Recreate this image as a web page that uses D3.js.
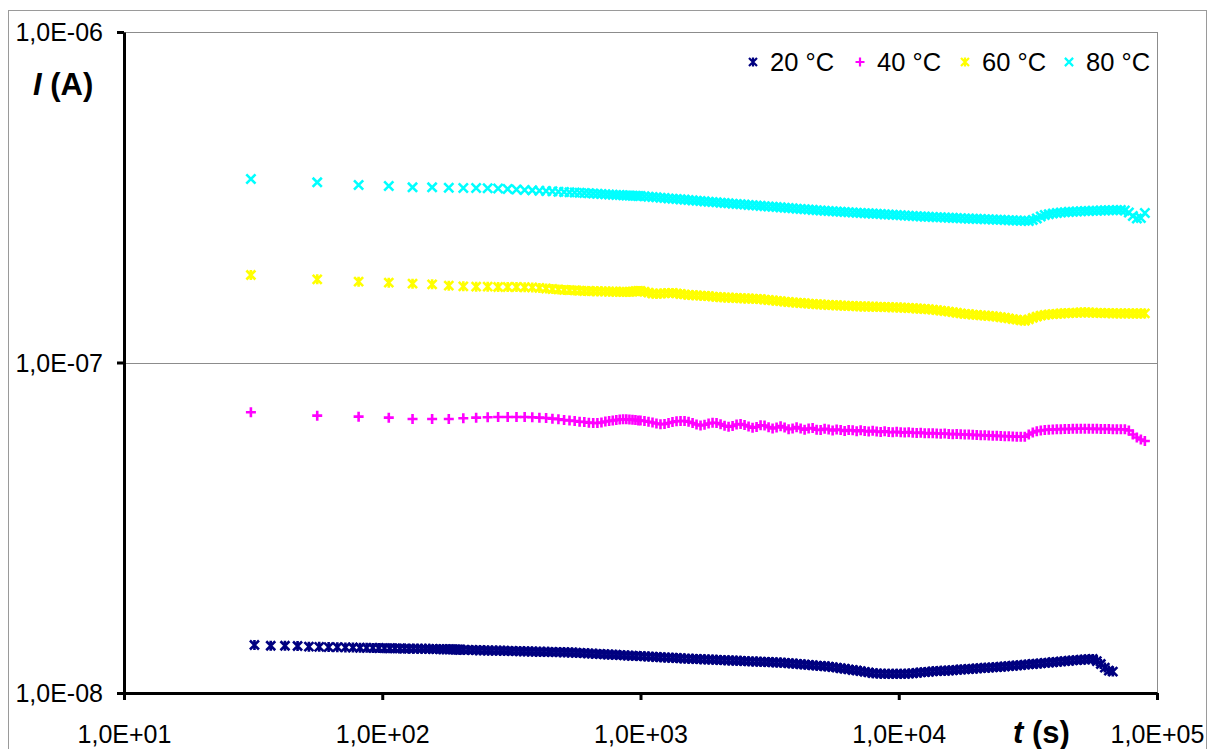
<!DOCTYPE html>
<html><head><meta charset="utf-8">
<script src="https://cdn.jsdelivr.net/npm/d3@7"></script>
<style>body{margin:0;background:#fff}svg{display:block}text{font-family:"Liberation Sans",Arial,sans-serif}</style>
</head><body>
<svg id="c" width="1210" height="749"></svg>
<script>
// ---- data (time in s, current in nA) ----
const series = ["20 °C","40 °C","60 °C","80 °C"];
const colors = ["#000080","#FF00FF","#FFFF00","#00FFFF"];
const markers = ["star","plus","star","x"];
const xTicks = [1e1,1e2,1e3,1e4,1e5];
const yTicks = [1e-8,1e-7,1e-6];

const T_EARLY = [31,56,81,106,131,156,181,206,231,256,281,306,331,356,381,406,431,456,481,506,531,556,581,606,631,656,681,706,731,756,781,806,831,856,881,906,931,956,981];
const T20_EARLY = [32,37,42,47,52,57,62,67,72,77,82,87,92,97,102,107,112,117,122,127,132,137,142,147,152,157,162,167,172,177,182,187,192,197];
const T20_MID = [200,207,215,223,231,239,248,257,266,276,286,296,307,318,330,342,354,367,380,394,408,423,439,454,471,488,506,524,543,563,583,605,627,649,673,697,723,749,776,804,834,864,895,928,962];
const T_LATE = [1000,1036,1074,1113,1153,1195,1239,1284,1330,1379,1429,1481,1535,1591,1648,1708,1770,1835,1901,1970,2042,2116,2193,2273,2355,2441,2529,2621,2716,2815,2917,3023,3133,3247,3365,3487,3614,3745,3881,4022,4169,4320,4477,4640,4808,4983,5164,5352,5546,5748,5957,6173,6397,6630,6871,7120,7379,7647,7925,8213,8511,8820,9141,9473,9817,10174,10544,10927,11324,11735,12162,12604,13062,13536,14028,14538,15066,15614,16181,16769,17378,18010,18664,19342,20045,20773,21528,22310,23121,23961,24831,25734,26669,27638,28642,29683,30761,31879,33037,34237,35481,36770,38107,39491,40926,42413,43954,45551,47206,48921,50699,52541,54450,56428,58479,60603,62806,65087,67452,69903,72444,75076,77804,80631,83560,86596,89743];

const I20 = [13.97,13.90,13.90,13.87,13.81,13.79,13.77,13.76,13.74,13.73,13.71,13.70,13.69,13.68,13.67,13.66,13.65,13.64,13.63,13.62,13.62,13.62,13.61,13.60,13.60,13.59,13.58,13.57,13.57,13.56,13.56,13.55,13.54,13.54,
13.52,13.51,13.50,13.49,13.48,13.47,13.46,13.45,13.44,13.44,13.43,13.42,13.41,13.40,13.39,13.38,13.37,13.36,13.35,13.34,13.33,13.32,13.32,13.31,13.30,13.29,13.28,13.27,13.26,13.24,13.22,13.20,13.18,13.15,13.14,13.12,13.10,13.08,13.06,13.05,13.02,13.00,12.98,12.96,12.95,
12.93,12.91,12.89,12.88,12.85,12.83,12.81,12.79,12.78,12.76,12.74,12.71,12.70,12.69,12.67,12.66,12.64,12.62,12.62,12.60,12.58,12.57,12.55,12.54,12.52,12.51,12.49,12.47,12.46,12.45,12.43,12.42,12.41,12.39,12.37,12.36,12.34,12.30,12.28,12.25,12.22,12.20,12.16,12.13,12.10,12.08,12.05,12.02,11.98,11.93,11.88,11.84,11.79,11.74,11.70,11.65,11.59,11.54,11.48,11.46,11.44,11.43,11.43,11.43,11.43,11.43,11.43,11.45,11.47,11.51,11.54,11.57,11.59,11.63,11.65,11.67,11.68,11.70,11.72,11.75,11.78,11.79,11.82,11.84,11.87,11.89,11.92,11.93,11.96,11.98,12.01,12.03,12.06,12.09,12.12,12.14,12.18,12.21,12.24,12.27,12.29,12.33,12.36,12.39,12.42,12.46,12.48,12.52,12.55,12.58,12.61,12.63,12.65,12.67,12.49,12.24,11.94,11.69,11.61];

const I40 = [70.70,69.05,68.57,68.09,67.48,67.48,67.48,67.81,68.09,68.29,68.43,68.43,68.43,68.43,68.29,68.09,67.95,67.62,67.34,67.01,66.78,66.55,66.18,66.09,65.77,65.63,65.63,65.86,66.32,66.55,66.78,67.01,67.25,67.34,67.34,67.25,67.11,67.01,66.78,
66.78,66.55,66.18,65.86,65.40,65.08,65.17,65.63,66.09,66.41,66.55,66.55,66.18,65.63,64.95,64.50,64.81,65.40,65.72,65.63,65.08,64.36,63.96,64.27,64.95,65.17,64.72,64.05,63.52,63.83,64.59,64.50,63.74,63.16,63.61,64.18,63.61,62.81,63.16,63.74,63.16,62.59,63.12,63.38,62.59,62.51,63.03,62.68,62.25,62.73,62.51,62.07,62.51,62.33,61.94,62.33,62.07,61.81,62.12,61.85,61.64,61.90,61.64,61.51,61.73,61.47,61.39,61.56,61.30,61.22,61.35,61.13,61.05,61.13,60.96,60.88,60.96,60.79,60.71,60.75,60.62,60.54,60.54,60.41,60.33,60.29,60.20,60.12,60.08,59.99,59.95,59.87,59.79,59.70,59.66,59.62,59.66,60.58,61.43,61.98,62.29,62.51,62.64,62.73,62.81,62.85,62.90,62.94,62.98,63.03,63.03,63.03,63.03,62.98,62.98,62.94,62.94,62.90,62.85,62.81,62.81,62.77,62.29,60.58,59.33,58.51,57.90];

const I60 = [184.0,178.5,175.6,174.4,173.2,172.4,170.8,170.0,169.6,169.6,169.2,169.2,169.2,168.9,168.7,168.1,167.5,166.9,166.4,165.8,165.6,165.2,165.0,164.6,164.6,164.4,164.3,164.2,164.1,163.9,163.8,163.7,163.6,163.5,163.5,163.7,163.9,164.3,164.6,
164.6,163.7,162.7,161.7,161.3,161.7,161.9,162.2,162.4,161.8,161.2,160.7,160.1,159.9,159.7,159.3,159.0,158.8,158.3,157.9,157.6,157.4,157.1,156.9,156.7,156.5,156.3,156.2,155.9,155.7,155.5,155.0,154.6,154.1,153.7,153.3,152.8,152.4,152.0,151.7,151.4,151.1,150.7,150.4,150.1,149.9,149.6,149.3,149.1,149.0,148.7,148.5,148.3,148.2,148.0,147.8,147.7,147.6,147.5,147.4,147.3,147.2,147.0,146.9,146.8,146.6,146.4,146.2,146.0,145.7,145.4,145.2,144.9,144.5,144.0,143.6,143.1,142.6,142.0,141.4,140.8,140.3,140.0,139.6,139.3,138.9,138.6,138.4,138.0,137.6,137.1,136.6,136.0,135.3,134.8,134.2,133.8,135.0,136.5,137.7,138.6,139.3,139.8,140.1,140.4,140.7,140.9,141.1,141.3,141.5,141.7,141.8,141.7,141.5,141.3,141.2,141.1,141.0,140.9,140.8,140.8,140.8,140.8,140.7,140.7,140.7,140.8];

const I80 = [359.1,350.9,344.4,342.0,338.9,338.9,337.9,337.3,337.3,336.6,336.1,334.9,333.8,332.6,331.9,331.0,330.3,329.6,328.7,328.0,327.3,326.9,326.2,325.8,325.1,324.4,324.0,323.5,322.8,322.4,322.0,321.3,321.1,320.6,320.2,319.9,319.7,319.5,319.2,
319.0,318.3,317.5,316.8,316.1,315.3,314.6,313.7,313.1,312.4,311.6,311.0,310.1,309.4,308.8,307.9,307.3,306.4,305.8,305.2,304.3,303.7,303.1,302.4,301.8,301.2,300.5,299.7,299.1,298.4,297.8,297.2,296.6,295.9,295.3,294.7,294.1,293.5,292.7,292.0,291.4,290.8,290.2,289.6,289.0,288.4,287.8,287.2,286.8,286.2,285.8,285.4,284.8,284.4,284.0,283.4,283.0,282.6,282.1,281.7,281.3,280.7,280.3,279.9,279.3,278.9,278.5,278.0,277.6,277.2,276.7,276.3,275.9,275.5,275.1,274.9,274.5,274.1,273.9,273.5,273.1,272.9,272.5,272.2,272.0,271.6,271.3,271.1,270.7,270.4,270.2,269.8,269.4,269.2,268.9,268.5,268.3,268.1,270.0,272.8,276.7,279.5,281.1,282.2,283.4,284.2,285.0,285.6,286.0,286.4,286.8,287.2,287.4,287.8,288.0,288.4,288.6,288.8,289.0,289.2,289.4,288.4,284.4,277.6,272.8,273.7,283.4];

// ---- build ----
function zip(ts, vs){ const n=Math.min(ts.length, vs.length); const out=[]; for(let i=0;i<n;i++) out.push({t:ts[i], i:vs[i]*1e-9}); return out; }
const data = [
  zip(T20_EARLY.concat(T20_MID, T_LATE), I20),
  zip(T_EARLY.concat(T_LATE), I40),
  zip(T_EARLY.concat(T_LATE), I60),
  zip(T_EARLY.concat(T_LATE), I80)
];

const svg = d3.select("#c");
const L=124, R=1157, T=32, B=693;
const x = d3.scaleLog().domain([1e1,1e5]).range([L,R]);
const y = d3.scaleLog().domain([1e-8,1e-6]).range([B,T]);
const fmt = v => { const e=Math.round(Math.log10(v)); return "1,0E"+(e<0?"-":"+")+String(Math.abs(e)).padStart(2,"0"); };

svg.append("rect").attr("x",0).attr("y",0).attr("width",1210).attr("height",749).attr("fill","#fff");
// outer chart border
svg.append("rect").attr("x",8.5).attr("y",10.5).attr("width",1198).attr("height",760).attr("fill","none").attr("stroke","#9a9a9a").attr("stroke-width",1);

// plot border + gridlines
svg.append("line").attr("x1",L).attr("x2",R).attr("y1",T+0.5).attr("y2",T+0.5).attr("stroke","#8c8c8c").attr("stroke-width",1);
svg.append("line").attr("x1",R+0.5).attr("x2",R+0.5).attr("y1",T).attr("y2",B).attr("stroke","#8c8c8c").attr("stroke-width",1);
svg.selectAll("line.grid").data(yTicks.slice(1,-1)).enter().append("line").attr("class","grid")
  .attr("x1",L).attr("x2",R).attr("y1",d=>Math.round(y(d))+0.5).attr("y2",d=>Math.round(y(d))+0.5)
  .attr("stroke","#8c8c8c").attr("stroke-width",1);

// markers
const sym = {
  x: r=>`M${-r},${-r}L${r},${r}M${-r},${r}L${r},${-r}`,
  plus: r=>`M${-r},0L${r},0M0,${-r}L0,${r}`,
  star: r=>`M${-r},${-r}L${r},${r}M${-r},${r}L${r},${-r}M0,${-r-0.5}L0,${r+0.5}`
};
const rad = {x:4.6, plus:5, star:4.5};
data.forEach((s,si)=>{
  svg.append("g").selectAll("path").data(s).enter().append("path")
    .attr("transform",d=>`translate(${x(d.t)},${y(d.i)})`)
    .attr("d",sym[markers[si]](rad[markers[si]]))
    .attr("fill","none").attr("stroke",colors[si]).attr("stroke-width",2.6);
});

// axes
const ax = svg.append("g").attr("transform",`translate(0,${B})`)
  .call(d3.axisBottom(x).tickValues(xTicks).tickFormat(fmt).tickSize(7).tickSizeOuter(0).tickPadding(25));
const ay = svg.append("g").attr("transform",`translate(${L},0)`)
  .call(d3.axisLeft(y).tickValues(yTicks).tickFormat(fmt).tickSize(7).tickSizeOuter(0).tickPadding(14));
[ax,ay].forEach(a=>{
  a.select(".domain").attr("stroke","#000").attr("stroke-width",3);
  a.selectAll(".tick line").attr("stroke","#000").attr("stroke-width",3);
  a.selectAll(".tick text").attr("fill","#000").style("font-size","25px").style("font-family","'Liberation Sans',Arial,sans-serif");
});
ay.selectAll(".tick text").attr("dy","0.35em");
ax.selectAll(".tick text").attr("dy","0.71em");

// axis titles
const yt = svg.append("text").attr("x",33).attr("y",95).style("font-size","31px").style("font-weight","bold");
yt.append("tspan").style("font-style","italic").text("I");
yt.append("tspan").text(" (A)");
const xt = svg.append("text").attr("x",1013).attr("y",743).style("font-size","31px").style("font-weight","bold");
xt.append("tspan").style("font-style","italic").text("t");
xt.append("tspan").text(" (s)");

// legend
const legX = [753,860,965,1069];
series.forEach((name,i)=>{
  svg.append("path").attr("transform",`translate(${legX[i]},62)`).attr("d",sym[markers[i]](rad[markers[i]]-0.5))
    .attr("fill","none").attr("stroke",colors[i]).attr("stroke-width",2.2);
  svg.append("text").attr("x",legX[i]+17).attr("y",71).style("font-size","25.5px").attr("fill","#000").text(name);
});
</script>
</body></html>
